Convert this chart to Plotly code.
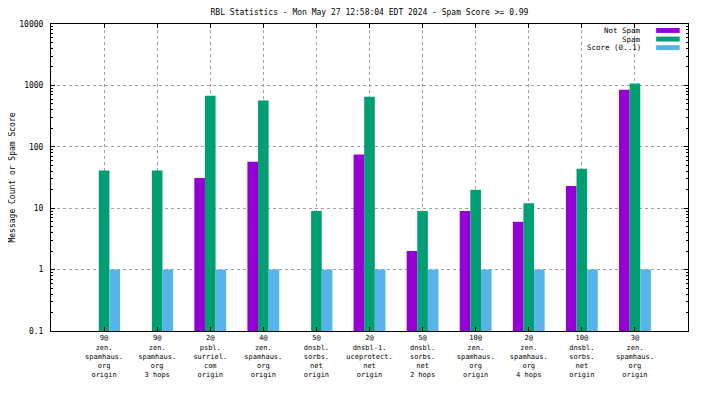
import plotly.graph_objects as go

label_lines = [
    ["9@", "zen.", "spamhaus.", "org", "origin"],
    ["9@", "zen.", "spamhaus.", "org", "3 hops"],
    ["2@", "psbl.", "surriel.", "com", "origin"],
    ["4@", "zen.", "spamhaus.", "org", "origin"],
    ["5@", "dnsbl.", "sorbs.", "net", "origin"],
    ["2@", "dnsbl-1.", "uceprotect.", "net", "origin"],
    ["5@", "dnsbl.", "sorbs.", "net", "2 hops"],
    ["10@", "zen.", "spamhaus.", "org", "origin"],
    ["2@", "zen.", "spamhaus.", "org", "4 hops"],
    ["10@", "dnsbl.", "sorbs.", "net", "origin"],
    ["3@", "zen.", "spamhaus.", "org", "origin"],
]
not_spam = [None, None, 31, 57, None, 75, 2, 9, 6, 23, 850]
spam = [41, 41, 680, 565, 9, 655, 9, 20, 12, 44, 1070]
score = [1, 1, 1, 1, 1, 1, 1, 1, 1, 1, 1]

series_names = ["Not Spam", "Spam", "Score (0..1)"]
series_colors = ["#9400D3", "#009E73", "#56B4E9"]

ytick_vals = [0.1, 1, 10, 100, 1000, 10000]
ytick_text = ["0.1", "1", "10", "100", "1000", "10000"]

title_text = "RBL Statistics - Mon May 27 12:58:04 EDT 2024 - Spam Score >= 0.99"
ytitle = "Message Count or Spam Score"

FONT = "DejaVu Sans Mono"
x = list(range(len(label_lines)))
ticktext = ["<br>".join(l) for l in label_lines]

# the page body has an 8px margin, so the figure is sized to fill the window from there
W, H = 696, 388

fig = go.Figure()
for name, vals, col in zip(series_names, [not_spam, spam, score], series_colors):
    fig.add_trace(go.Bar(x=x, y=vals, name=name, marker=dict(color=col, line=dict(width=0)),
                         showlegend=False))

# manual gnuplot-style legend (text right, swatch on the right)
leg_y = [0.979, 0.951, 0.923]
for name, col, yy in zip(series_names, series_colors, leg_y):
    fig.add_annotation(x=0.928, y=yy, xref="paper", yref="paper", text=name,
                       showarrow=False, xanchor="right", yanchor="middle", borderpad=0,
                       font=dict(family=FONT, size=7.5, color="black"))
    fig.add_shape(type="rect", xref="paper", yref="paper", x0=0.95, x1=0.987,
                  y0=yy - 0.008, y1=yy + 0.008, fillcolor=col, line=dict(width=0))

fig.update_layout(
    width=W, height=H,
    margin=dict(l=43, r=16, t=16, b=65, pad=0),
    paper_bgcolor="white", plot_bgcolor="white",
    barmode="group", bargap=0.4, bargroupgap=0,
    font=dict(family=FONT, size=8, color="black"),
    title=dict(text=title_text, x=0.5, xref="paper", y=1 - 4.5 / H, yref="container",
               xanchor="center", yanchor="middle", font=dict(family=FONT, size=8)),
    xaxis=dict(range=[-1, 11], tickvals=x, ticktext=ticktext, showgrid=True,
               gridcolor="#a0a0a0", griddash="3px,3px", gridwidth=1,
               showline=True, linecolor="black", linewidth=1, mirror="ticks",
               ticks="inside", ticklen=4, tickcolor="black", zeroline=False,
               automargin=False, tickfont=dict(family=FONT, size=7)),
    yaxis=dict(type="log", range=[-1, 4], tickvals=ytick_vals, ticktext=ytick_text,
               showgrid=True, gridcolor="#a0a0a0", griddash="3px,3px", gridwidth=1,
               showline=True, linecolor="black", linewidth=1, mirror="ticks",
               ticks="inside", ticklen=4, tickcolor="black", zeroline=False,
               automargin=False, ticklabelstandoff=5,
               minor=dict(ticks="inside", ticklen=2, tickcolor="black", dtick="D1", showgrid=False),
               title=dict(text=ytitle, font=dict(family=FONT, size=8), standoff=12),
               tickfont=dict(family=FONT, size=8)),
)
fig.write_html("out.html")
